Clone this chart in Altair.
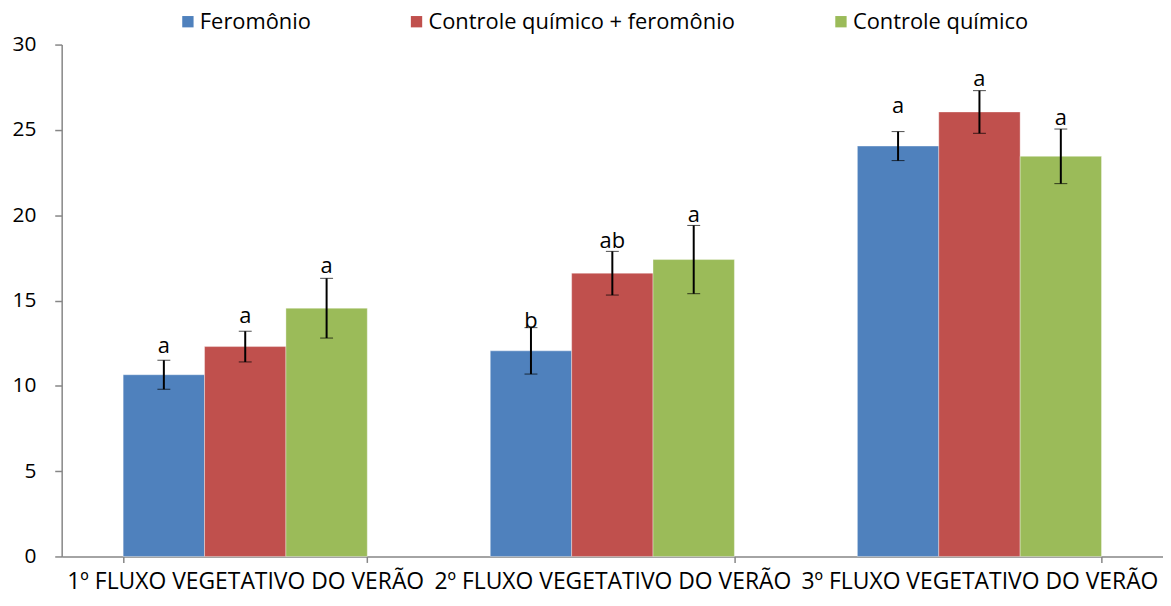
import altair as alt
import pandas as pd

categories = ["1º FLUXO VEGETATIVO DO VERÃO", "2º FLUXO VEGETATIVO DO VERÃO", "3º FLUXO VEGETATIVO DO VERÃO"]
series = ["Feromônio", "Controle químico + feromônio", "Controle químico"]
colors = ["#4F81BD", "#C0504D", "#9BBB59"]

means = {
    "Feromônio": [10.65, 12.05, 24.05],
    "Controle químico + feromônio": [12.3, 16.6, 26.05],
    "Controle químico": [14.55, 17.4, 23.45],
}
errors = {
    "Feromônio": [0.85, 1.36, 0.85],
    "Controle químico + feromônio": [0.9, 1.28, 1.25],
    "Controle químico": [1.75, 2.0, 1.6],
}
letters = {
    "Feromônio": ["a", "b", "a"],
    "Controle químico + feromônio": ["a", "ab", "a"],
    "Controle químico": ["a", "a", "a"],
}
letter_y = {
    "Feromônio": [11.9, 13.4, 26.0],
    "Controle químico + feromônio": [13.7, 18.1, 27.55],
    "Controle químico": [16.6, 19.6, 25.3],
}

rows = []
for s in series:
    for i, c in enumerate(categories):
        rows.append({
            "cat": c, "serie": s,
            "mean": means[s][i],
            "lo": means[s][i] - errors[s][i],
            "hi": means[s][i] + errors[s][i],
            "letter": letters[s][i], "ly": letter_y[s][i],
        })
df = pd.DataFrame(rows)

FONT = "Open Sans"

xenc = alt.X("cat:N", sort=categories, title=None,
             scale=alt.Scale(paddingInner=0.335, paddingOuter=0.1675),
             axis=alt.Axis(labelAngle=0, labelFontSize=23, labelFont=FONT, labelColor="#000",
                           labelLimit=400, domainColor="#868686", tickColor="#868686",
                           tickBand="extent", tickSize=6, labelPadding=8, domainWidth=1.5,
                           tickWidth=1.5))
xoff = alt.XOffset("serie:N", sort=series, scale=alt.Scale(paddingInner=0, paddingOuter=0))
yscale = alt.Scale(domain=[0, 30], nice=False)

bars = alt.Chart(df).mark_bar(stroke="white", strokeWidth=0.6, strokeOpacity=0.6).encode(
    x=xenc, xOffset=xoff,
    y=alt.Y("mean:Q", scale=yscale, title=None,
            axis=alt.Axis(values=[0, 5, 10, 15, 20, 25, 30], grid=False, labelFontSize=21,
                          labelFont=FONT, labelColor="#000", domainColor="#868686",
                          tickColor="#868686", tickSize=7, labelPadding=19, tickWidth=1.5,
                          domainWidth=1.5)),
    color=alt.Color("serie:N", sort=series, scale=alt.Scale(domain=series, range=colors),
                    legend=alt.Legend(orient="none", legendX=116, legendY=-34, direction="horizontal",
                                      title=None, symbolType="square", symbolSize=130, padding=0,
                                      symbolStrokeWidth=0, labelFontSize=22, labelFont=FONT,
                                      labelColor="#000", columnPadding=95, labelOffset=1,
                                      labelLimit=400)),
)

errs = alt.Chart(df).mark_errorbar(ticks=alt.MarkConfig(size=13, color="black", strokeWidth=2),
                                   rule=alt.MarkConfig(color="black", strokeWidth=2)).encode(
    x=alt.X("cat:N", sort=categories), xOffset=xoff,
    y=alt.Y("lo:Q", scale=yscale), y2="hi:Q",
)

text = alt.Chart(df).mark_text(fontSize=22, font=FONT, baseline="alphabetic", color="#000").encode(
    x=alt.X("cat:N", sort=categories), xOffset=xoff,
    y=alt.Y("ly:Q", scale=yscale), text="letter:N",
)

chart = alt.layer(bars, errs, text).properties(
    width=1108, height=515,
    autosize=alt.AutoSizeParams(type="none"),
    padding={"left": 54, "top": 35, "right": 0, "bottom": 40},
).configure_view(stroke=None)

chart.save("out.html", embed_options={"renderer": "svg", "actions": False})
